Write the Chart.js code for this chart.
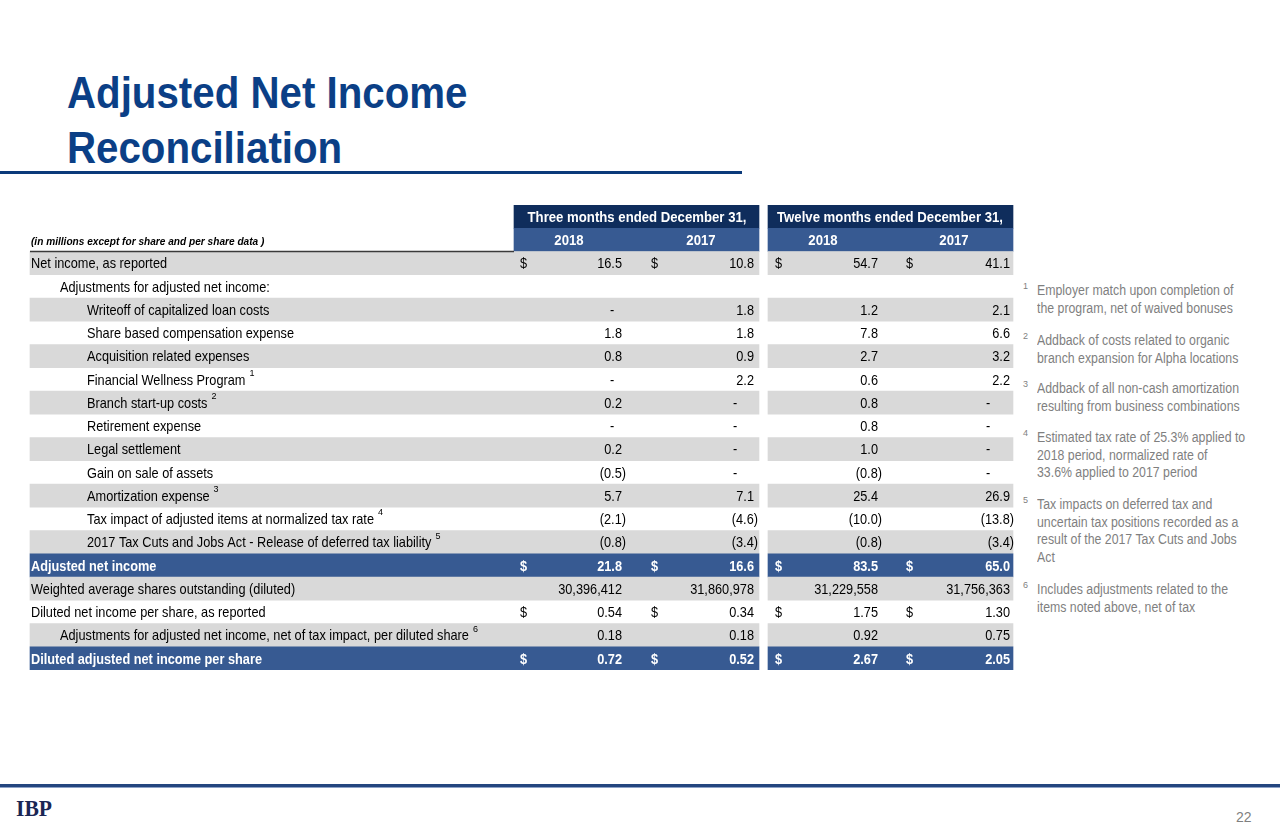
<!DOCTYPE html>
<html lang="en">
<head>
  <meta charset="UTF-8" />
  <title>Adjusted Net Income Reconciliation</title>
  <script src="https://cdn.jsdelivr.net/npm/chart.js"></script>
  <style>
    body {
        margin: 0;
        width: 1280px;
        height: 834px;
        position: relative;
        overflow: hidden;
        background: #ffffff;
        font-family: 'Liberation Sans', Arial, sans-serif;
    }

    .title {
        position: absolute;
        left: 67px;
        top: 65px;
        font-size: 44px;
        font-weight: bold;
        line-height: 55px;
        color: #0b3f86;
        white-space: nowrap;
        transform: scaleX(0.915);
        transform-origin: left top;
    }

    .title-rule {
        position: absolute;
        left: 0;
        top: 171px;
        width: 742px;
        height: 3px;
        background: #0b3a7a;
    }

    #tableChart {
        position: absolute;
        left: 0;
        top: 205px;
    }

    .fn-num {
        position: absolute;
        left: 1023px;
        font-size: 9px;
        color: #7f7f7f;
    }

    .fn {
        position: absolute;
        left: 1037px;
        font-size: 14px;
        line-height: 17.5px;
        color: #7f7f7f;
        white-space: nowrap;
        transform: scaleX(0.88);
        transform-origin: left top;
    }

    .footer-rule {
        position: absolute;
        left: 0;
        top: 784px;
        width: 1280px;
        height: 3px;
        background: #24467f;
        border-bottom: 1px solid #8ea3c8;
    }

    .logo {
        position: absolute;
        left: 16px;
        top: 796px;
        font-family: 'Liberation Serif', serif;
        font-weight: bold;
        font-size: 24px;
        line-height: 24px;
        color: #1b2654;
        transform: scaleX(0.9);
        transform-origin: left top;
    }

    .page-num {
        position: absolute;
        left: 1236px;
        top: 809px;
        font-size: 14px;
        line-height: 16px;
        color: #7f7f7f;
    }
  </style>
</head>

<body>
  <div class="title">Adjusted Net Income<br>Reconciliation</div>
  <div class="title-rule"></div>

  <canvas id="tableChart" width="1020" height="465"></canvas>

  <!-- footnotes -->
  <div class="fn-num" style="top:281px">1</div>
  <div class="fn" style="top:282px">Employer match upon completion of<br>the program, net of waived bonuses</div>
  <div class="fn-num" style="top:331px">2</div>
  <div class="fn" style="top:332px">Addback of costs related to organic<br>branch expansion for Alpha locations</div>
  <div class="fn-num" style="top:379px">3</div>
  <div class="fn" style="top:380px">Addback of all non-cash amortization<br>resulting from business combinations</div>
  <div class="fn-num" style="top:428px">4</div>
  <div class="fn" style="top:429px">Estimated tax rate of 25.3% applied to<br>2018 period, normalized rate of<br>33.6% applied to 2017 period</div>
  <div class="fn-num" style="top:495px">5</div>
  <div class="fn" style="top:496px">Tax impacts on deferred tax and<br>uncertain tax positions recorded as a<br>result of the 2017 Tax Cuts and Jobs<br>Act</div>
  <div class="fn-num" style="top:580px">6</div>
  <div class="fn" style="top:581px">Includes adjustments related to the<br>items noted above, net of tax</div>

  <div class="footer-rule"></div>
  <div class="logo">IBP</div>
  <div class="page-num">22</div>

  <script>
    // ---- data ----
    const periodHeaders = ['Three months ended December 31,', 'Twelve months ended December 31,'];
    const yearHeaders = ['2018', '2017', '2018', '2017'];
    const unitNote = '(in millions except for share and per share data )';

    const rowLabels = [
      'Net income, as reported',
      'Adjustments for adjusted net income:',
      'Writeoff of capitalized loan costs',
      'Share based compensation expense',
      'Acquisition related expenses',
      'Financial Wellness Program',
      'Branch start-up costs',
      'Retirement expense',
      'Legal settlement',
      'Gain on sale of assets',
      'Amortization expense',
      'Tax impact of adjusted items at normalized tax rate',
      '2017 Tax Cuts and Jobs Act - Release of deferred tax liability',
      'Adjusted net income',
      'Weighted average shares outstanding (diluted)',
      'Diluted net income per share, as reported',
      'Adjustments for adjusted net income, net of tax impact, per diluted share',
      'Diluted adjusted net income per share'
    ];
    const rowNotes = [null, null, null, null, null, '1', '2', null, null, null, '3', '4', '5', null, null, null, '6', null];
    const rowIndent = [0, 1, 2, 2, 2, 2, 2, 2, 2, 2, 2, 2, 2, 0, 0, 0, 1, 0];
    const rowDecimals = [1, 1, 1, 1, 1, 1, 1, 1, 1, 1, 1, 1, 1, 1, 0, 2, 2, 2];
    const dollarRows = [0, 13, 15, 17];
    const totalRows = [13, 17];

    // 0 is shown as "-", null is blank
    const q4_2018 = [16.5, null, 0, 1.8, 0.8, 0, 0.2, 0, 0.2, -0.5, 5.7, -2.1, -0.8, 21.8, 30396412, 0.54, 0.18, 0.72];
    const q4_2017 = [10.8, null, 1.8, 1.8, 0.9, 2.2, 0, 0, 0, 0, 7.1, -4.6, -3.4, 16.6, 31860978, 0.34, 0.18, 0.52];
    const fy_2018 = [54.7, null, 1.2, 7.8, 2.7, 0.6, 0.8, 0.8, 1.0, -0.8, 25.4, -10.0, -0.8, 83.5, 31229558, 1.75, 0.92, 2.67];
    const fy_2017 = [41.1, null, 2.1, 6.6, 3.2, 2.2, 0, 0, 0, 0, 26.9, -13.8, -3.4, 65.0, 31756363, 1.30, 0.75, 2.05];
    const columns = [q4_2018, q4_2017, fy_2018, fy_2017];

    // ---- layout (x in canvas px) ----
    const LABEL_START = 30;
    const LEFT_BLOCK = [514, 759];
    const RIGHT_BLOCK = [768, 1013];
    const INDENT_X = [31, 60, 87];
    const DOLLAR_X = [520, 651, 775, 906];
    const VALUE_RIGHT = [622, 754, 878, 1010];
    const DASH_OFFSET = [10, 19, 14, 22];
    const YEAR_CENTER = [569, 701, 823, 954];
    const PERIOD_CENTER = [637, 890];
    const SX = 0.85;

    const GRAY = '#d9d9d9';
    const NAVY = '#0f2d5c';
    const BLUE = '#375a92';

    const categories = ['hdrPeriod', 'hdrYear'].concat(rowLabels);

    function bandColor(i) {
      if (i === 0) return NAVY;
      if (i === 1) return BLUE;
      const r = i - 2;
      if (totalRows.includes(r)) return BLUE;
      return r % 2 === 0 ? GRAY : 'rgba(0,0,0,0)';
    }

    function fmt(v, dec) {
      if (v === null) return '';
      if (v === 0) return '-';
      const s = Math.abs(v).toLocaleString('en-US', { minimumFractionDigits: dec, maximumFractionDigits: dec });
      return v < 0 ? '(' + s + ')' : s;
    }

    function txt(ctx, s, x, y, align, font, color, sx) {
      ctx.save();
      ctx.translate(x, y);
      ctx.scale(sx, 1);
      ctx.font = font;
      ctx.fillStyle = color;
      ctx.textAlign = align;
      ctx.textBaseline = 'middle';
      ctx.fillText(s, 0, 0);
      const w = ctx.measureText(s).width * sx;
      ctx.restore();
      return w;
    }

    const tableText = {
      id: 'tableText',
      afterDatasetsDraw(chart) {
        const ctx = chart.ctx;
        const xs = chart.scales.x;
        const ys = chart.scales.y;
        const px = v => xs.getPixelForValue(v);

        // header rows
        const yP = ys.getPixelForValue(0);
        const yY = ys.getPixelForValue(1);
        periodHeaders.forEach((h, k) => txt(ctx, h, px(PERIOD_CENTER[k]), yP + 1, 'center', 'bold 15.5px "Liberation Sans"', '#ffffff', SX));
        yearHeaders.forEach((h, k) => txt(ctx, h, px(YEAR_CENTER[k]), yY + 1, 'center', 'bold 15.5px "Liberation Sans"', '#ffffff', SX));
        txt(ctx, unitNote, px(31), yY + 2, 'left', 'italic bold 11px "Liberation Sans"', '#000000', 0.92);

        // rule under the unit note
        const yRule = Math.round((yY + ys.getPixelForValue(2)) / 2) - 0.5;
        ctx.save();
        ctx.strokeStyle = '#3a3a3a';
        ctx.lineWidth = 1.5;
        ctx.beginPath();
        ctx.moveTo(px(LABEL_START), yRule);
        ctx.lineTo(px(LEFT_BLOCK[0]), yRule);
        ctx.stroke();
        ctx.restore();

        // body rows
        rowLabels.forEach((label, r) => {
          const y = ys.getPixelForValue(r + 2) + 1;
          const isTotal = totalRows.includes(r);
          const color = isTotal ? '#ffffff' : '#000000';
          const font = isTotal ? 'bold 15px "Liberation Sans"' : '15px "Liberation Sans"';
          const w = txt(ctx, label, px(INDENT_X[rowIndent[r]]), y, 'left', font, color, SX);
          if (rowNotes[r]) {
            txt(ctx, rowNotes[r], px(INDENT_X[rowIndent[r]]) + w + 4, y - 7, 'left', '9px "Liberation Sans"', color, 1);
          }
          columns.forEach((col, c) => {
            const s = fmt(col[r], rowDecimals[r]);
            if (!s) return;
            if (dollarRows.includes(r)) txt(ctx, '$', px(DOLLAR_X[c]), y, 'left', font, color, SX);
            if (s === '-') {
              txt(ctx, s, px(VALUE_RIGHT[c] - DASH_OFFSET[c]), y, 'center', font, color, SX);
            } else if (s.startsWith('(')) {
              txt(ctx, s, px(VALUE_RIGHT[c] + 4), y, 'right', font, color, SX);
            } else {
              txt(ctx, s, px(VALUE_RIGHT[c]), y, 'right', font, color, SX);
            }
          });
        });
      }
    };

    new Chart(document.getElementById('tableChart'), {
      type: 'bar',
      data: {
        labels: categories,
        datasets: [
          {
            data: categories.map((_, i) => i < 2 ? LEFT_BLOCK : [LABEL_START, LEFT_BLOCK[1]]),
            backgroundColor: c => bandColor(c.dataIndex),
            grouped: false,
            barPercentage: 1,
            categoryPercentage: 1,
            borderWidth: 0
          },
          {
            data: categories.map(() => RIGHT_BLOCK),
            backgroundColor: c => bandColor(c.dataIndex),
            grouped: false,
            barPercentage: 1,
            categoryPercentage: 1,
            borderWidth: 0
          }
        ]
      },
      options: {
        indexAxis: 'y',
        responsive: false,
        devicePixelRatio: 1,
        animation: false,
        layout: { padding: 0 },
        plugins: { legend: { display: false }, tooltip: { enabled: false } },
        scales: {
          x: { type: 'linear', min: 0, max: 1020, display: false },
          y: { type: 'category', display: false, offset: true }
        }
      },
      plugins: [tableText]
    });
  </script>
</body>
</html>
